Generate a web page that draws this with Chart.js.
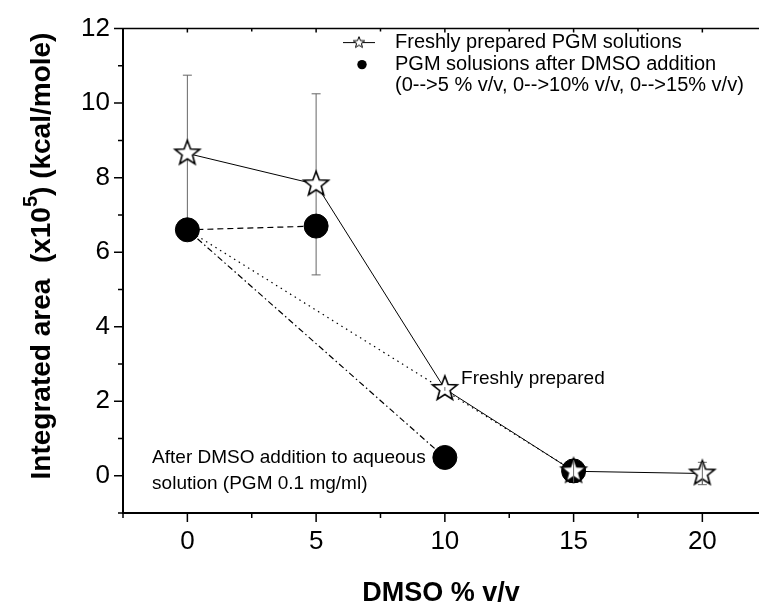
<!DOCTYPE html>
<html>
<head>
<meta charset="utf-8">
<script src="https://cdn.jsdelivr.net/npm/chart.js@4.4.1/dist/chart.umd.min.js"></script>
<style>
html, body { margin: 0; padding: 0; background: #fff; }
#wrap { width: 773px; height: 605px; }
</style>
</head>
<body>
<div id="wrap"><canvas id="grafik"></canvas></div>
<script>
// DMSO concentration (% v/v)
const dmso = [0, 5, 10, 15, 20];
// freshly prepared PGM solutions
const freshArea = [8.65, 7.82, 2.33, 0.12, 0.06];
const freshErr = [2.1, 2.43, 0.05, 0.3, 0.3];
// PGM solutions after DMSO addition
const addDmso = [0, 5, 10, 15];
const addArea = [6.6, 6.7, 0.49, 0.13];

const xTicks = [0, 5, 10, 15, 20];
const xMinor = [-2.5, 2.5, 7.5, 12.5, 17.5];
const yTicks = [0, 2, 4, 6, 8, 10, 12];
const yMinor = [-1, 1, 3, 5, 7, 9, 11];

const FONT = "'Liberation Sans', Arial, sans-serif";

const makeStar = (r, lw) => {
    const size = Math.ceil(r * 2 + lw * 2 + 2);
    const c = document.createElement('canvas');
    c.width = size;
    c.height = size;
    const g = c.getContext('2d');
    g.beginPath();
    for (let i = 0; i < 10; i++) {
        const rr = i % 2 ? r * 0.42 : r;
        const a = -Math.PI / 2 + i * Math.PI / 5;
        g.lineTo(size / 2 + rr * Math.cos(a), size / 2 + rr * Math.sin(a));
    }
    g.closePath();
    g.fillStyle = '#fff';
    g.fill();
    g.lineWidth = lw;
    g.strokeStyle = '#000';
    g.stroke();
    return c;
};
const bigStar = makeStar(13, 1.6);
const smallStar = makeStar(6, 1);

const pts = (xs, ys) => xs.map((x, i) => ({x: x, y: ys[i]}));
const seg = (a, b) => [{x: addDmso[a], y: addArea[a]}, {x: addDmso[b], y: addArea[b]}];

const drawErr = (chart, onlySmall) => {
    const {ctx, scales: {x, y}} = chart;
    ctx.save();
    ctx.strokeStyle = '#666';
    ctx.lineWidth = 1;
    dmso.forEach((d, i) => {
        if (onlySmall && freshErr[i] > 0.5) return;
        const px = x.getPixelForValue(d);
        const top = y.getPixelForValue(freshArea[i] + freshErr[i]);
        const bot = y.getPixelForValue(freshArea[i] - freshErr[i]);
        ctx.beginPath();
        ctx.moveTo(px, top); ctx.lineTo(px, bot);
        if (!onlySmall) {
            ctx.moveTo(px - 4.5, top); ctx.lineTo(px + 4.5, top);
            ctx.moveTo(px - 4.5, bot); ctx.lineTo(px + 4.5, bot);
        }
        ctx.stroke();
    });
    ctx.restore();
};

// axes, ticks, error bars and texts
const decor = {
    id: 'decor',
    beforeDatasetsDraw(chart) {
        drawErr(chart, false);
    },
    afterDraw(chart) {
        drawErr(chart, true);
        const {ctx, chartArea: a, scales: {x, y}} = chart;
        ctx.save();
        ctx.strokeStyle = '#000';
        // frame
        ctx.lineWidth = 2;
        ctx.beginPath();
        ctx.moveTo(a.left, a.top); ctx.lineTo(a.left, a.bottom); ctx.lineTo(a.right, a.bottom);
        ctx.stroke();
        ctx.lineWidth = 1.5;
        ctx.beginPath();
        ctx.moveTo(a.left, a.top); ctx.lineTo(a.right, a.top);
        ctx.stroke();
        ctx.lineWidth = 1.5;
        ctx.beginPath();
        xTicks.forEach(v => {
            const px = x.getPixelForValue(v);
            ctx.moveTo(px, a.bottom); ctx.lineTo(px, a.bottom + 9);
            ctx.moveTo(px, a.top); ctx.lineTo(px, a.top + 4);
        });
        xMinor.forEach(v => {
            const px = x.getPixelForValue(v);
            ctx.moveTo(px, a.bottom); ctx.lineTo(px, a.bottom + 5);
            ctx.moveTo(px, a.top); ctx.lineTo(px, a.top + 3);
        });
        yTicks.forEach(v => {
            const py = y.getPixelForValue(v);
            ctx.moveTo(a.left, py); ctx.lineTo(a.left - 9, py);
        });
        yMinor.forEach(v => {
            const py = y.getPixelForValue(v);
            ctx.moveTo(a.left, py); ctx.lineTo(a.left - 5, py);
        });
        ctx.stroke();

        // y title with superscript
        ctx.fillStyle = '#000';
        ctx.translate(42, 256);
        ctx.rotate(-Math.PI / 2);
        ctx.textBaseline = 'middle';
        const p1 = 'Integrated area  (x10', p2 = '5', p3 = ') (kcal/mole)';
        ctx.font = 'bold 28px ' + FONT;
        const w1 = ctx.measureText(p1).width, w3 = ctx.measureText(p3).width;
        ctx.font = 'bold 20px ' + FONT;
        const w2 = ctx.measureText(p2).width;
        let sx = -(w1 + w2 + w3) / 2;
        ctx.font = 'bold 28px ' + FONT;
        ctx.fillText(p1, sx, 0);
        ctx.font = 'bold 20px ' + FONT;
        ctx.fillText(p2, sx + w1, -11);
        ctx.font = 'bold 28px ' + FONT;
        ctx.fillText(p3, sx + w1 + w2, 0);
        ctx.setTransform(1, 0, 0, 1, 0, 0);

        // annotations
        ctx.font = '19px ' + FONT;
        ctx.textBaseline = 'middle';
        ctx.textAlign = 'left';
        ctx.fillText('Freshly prepared', x.getPixelForValue(10.63), y.getPixelForValue(2.59));
        ctx.fillText('After DMSO addition to aqueous', x.getPixelForValue(-1.37), y.getPixelForValue(0.48));
        ctx.fillText('solution (PGM 0.1 mg/ml)', x.getPixelForValue(-1.37), y.getPixelForValue(-0.21));

        // legend
        const lx = a.left + 220, ly = a.top + 14;
        ctx.lineWidth = 1;
        ctx.beginPath();
        ctx.moveTo(lx, ly); ctx.lineTo(lx + 32, ly);
        ctx.stroke();
        ctx.drawImage(smallStar, lx + 16 - smallStar.width / 2, ly - smallStar.height / 2);
        ctx.beginPath();
        ctx.arc(lx + 19, ly + 22, 4.7, 0, Math.PI * 2);
        ctx.fill();
        ctx.font = '20px ' + FONT;
        ctx.fillText('Freshly prepared PGM solutions', lx + 52, ly);
        ctx.fillText('PGM solusions after DMSO addition', lx + 52, ly + 21.5);
        ctx.fillText('(0-->5 % v/v, 0-->10% v/v, 0-->15% v/v)', lx + 52, ly + 43);
        ctx.restore();
    }
};

const ctx = document.getElementById('grafik');
new Chart(ctx, {
    type: 'scatter',
    data: {
        datasets: [{
            label: 'Freshly prepared PGM solutions',
            data: pts(dmso, freshArea),
            showLine: true,
            borderColor: '#000',
            borderWidth: 1,
            pointStyle: bigStar,
            pointRadius: 13,
            order: 0
        }, {
            label: 'PGM solusions after DMSO addition',
            data: pts(addDmso, addArea),
            showLine: false,
            backgroundColor: '#000',
            borderColor: '#000',
            pointStyle: 'circle',
            pointRadius: 12,
            order: 1
        }, {
            label: '0-->5',
            data: seg(0, 1),
            showLine: true,
            borderColor: '#000',
            borderWidth: 1.2,
            borderDash: [6, 4],
            pointRadius: 0,
            order: 2
        }, {
            label: '0-->10',
            data: seg(0, 2),
            showLine: true,
            borderColor: '#000',
            borderWidth: 1.2,
            borderDash: [6, 3, 1.5, 3],
            pointRadius: 0,
            order: 2
        }, {
            label: '0-->15',
            data: seg(0, 3),
            showLine: true,
            borderColor: '#000',
            borderWidth: 1.2,
            borderDash: [1.5, 4],
            pointRadius: 0,
            order: 2
        }]
    },
    options: {
        responsive: true,
        maintainAspectRatio: false,
        animation: false,
        layout: {padding: {top: 25, right: 0, bottom: 0, left: 0}},
        plugins: {
            legend: {display: false},
            tooltip: {enabled: false}
        },
        scales: {
            x: {
                type: 'linear',
                min: -2.5,
                max: 22.2,
                afterBuildTicks: s => { s.ticks = xTicks.map(v => ({value: v})); },
                afterFit: s => { s.height = 92; },
                grid: {display: false, drawTicks: false},
                border: {display: false},
                ticks: {color: '#000', font: {family: FONT, size: 26}, padding: 13, maxRotation: 0},
                title: {
                    display: true,
                    text: 'DMSO % v/v',
                    color: '#000',
                    font: {family: FONT, size: 27, weight: 'bold', lineHeight: 1},
                    padding: {top: 0, bottom: -2}
                }
            },
            y: {
                min: -1,
                max: 12,
                afterBuildTicks: s => { s.ticks = yTicks.map(v => ({value: v})); },
                afterFit: s => { s.width = 123; },
                grid: {display: false, drawTicks: false},
                border: {display: false},
                ticks: {color: '#000', font: {family: FONT, size: 26}, padding: 13}
            }
        }
    },
    plugins: [decor]
});
</script>
</body>
</html>
